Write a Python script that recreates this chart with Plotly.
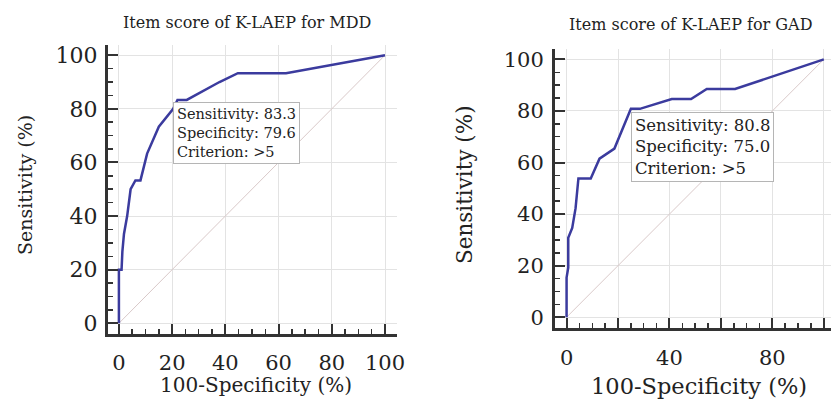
import plotly.graph_objects as go

# MDD ROC data (100-Specificity, Sensitivity)
mdd_fpr = [0, 0, 1.0, 1.3, 1.9, 3.1, 4.4, 6.2, 8.1, 10.6, 15.0, 20.4, 22.0, 25.5, 37.8, 44.7, 62.8, 100]
mdd_tpr = [0, 20.0, 20.0, 26.7, 33.3, 40.0, 50.0, 53.3, 53.3, 63.3, 73.3, 80.0, 83.3, 83.3, 90.0, 93.3, 93.3, 100]

# GAD ROC data
gad_fpr = [0, 0, 0.65, 0.65, 2.2, 3.5, 4.6, 9.4, 12.8, 18.6, 25.0, 28.5, 40.9, 48.4, 54.5, 65.5, 100]
gad_tpr = [0, 15.4, 19.2, 30.8, 34.6, 42.3, 53.8, 53.8, 61.5, 65.4, 80.8, 80.8, 84.6, 84.6, 88.5, 88.5, 100]

diag = [0, 100]

titles = ["Item score of K-LAEP for MDD", "Item score of K-LAEP for GAD"]
x_title = "100-Specificity (%)"
y_title = "Sensitivity (%)"
ann_mdd = ["Sensitivity: 83.3", "Specificity: 79.6", "Criterion: >5"]
ann_gad = ["Sensitivity: 80.8", "Specificity: 75.0", "Criterion: >5"]
mdd_crit = (20.4, 83.3)
gad_crit = (25.0, 80.8)

tick_vals = [0, 20, 40, 60, 80, 100]
left_ticktext = ["0", "20", "40", "60", "80", "100"]
right_xticktext = ["0", "", "40", "", "80", ""]

FONT = "DejaVu Serif"
LINE = "#3b3b9e"
GRID = "#e3e3e3"
AX = "#333333"
TXT = "#222222"

fig = go.Figure()
fig.add_trace(go.Scatter(x=diag, y=diag, mode="lines", line=dict(color="#d9c9c9", width=1),
                         xaxis="x", yaxis="y", showlegend=False, hoverinfo="skip"))
fig.add_trace(go.Scatter(x=mdd_fpr, y=mdd_tpr, mode="lines", line=dict(color=LINE, width=2.5),
                         xaxis="x", yaxis="y", showlegend=False))
fig.add_trace(go.Scatter(x=diag, y=diag, mode="lines", line=dict(color="#d9c9c9", width=1),
                         xaxis="x2", yaxis="y2", showlegend=False, hoverinfo="skip"))
fig.add_trace(go.Scatter(x=gad_fpr, y=gad_tpr, mode="lines", line=dict(color=LINE, width=2.5),
                         xaxis="x2", yaxis="y2", showlegend=False))

W, H = 831, 401

def ax(domain, rng, ticktext, anchor, tsize, standoff):
    return dict(
        domain=domain, range=rng, anchor=anchor, automargin=False,
        tickmode="array", tickvals=tick_vals, ticktext=ticktext,
        ticks="inside", ticklen=10, tickwidth=2, tickcolor=AX,
        showline=True, linecolor=AX, linewidth=3, mirror=False,
        showgrid=True, gridcolor=GRID, gridwidth=1, zeroline=False,
        minor=dict(dtick=5, ticks="inside", ticklen=5, tickwidth=1.5, tickcolor=AX, showgrid=False),
        tickfont=dict(family=FONT, size=tsize, color=TXT),
        ticklabelstandoff=standoff, fixedrange=True,
    )

x1d = [108 / W, 397 / W]
y1d = [(H - 334) / H, (H - 45) / H]
x2d = [555 / W, 1.0]
y2d = [(H - 328.3) / H, (H - 49.3) / H]

fig.update_layout(
    width=W, height=H,
    margin=dict(l=0, r=0, t=0, b=0),
    paper_bgcolor="white", plot_bgcolor="white",
    showlegend=False,
    xaxis=ax(x1d, [-4.1, 104.5], left_ticktext, "y", 21, 8),
    yaxis=ax(y1d, [-4.0, 103.8], left_ticktext, "x", 22, 3),
    xaxis2=ax(x2d, [-4.5, 102.8], right_xticktext, "y2", 21, 8),
    yaxis2=ax(y2d, [-4.3, 103.9], left_ticktext, "x2", 21, 4),
)

def pann(text, x, y, size, angle=0):
    fig.add_annotation(text=text, xref="paper", yref="paper", x=x / W, y=(H - y) / H,
                       showarrow=False, font=dict(family=FONT, size=size, color=TXT),
                       xanchor="center", yanchor="middle", textangle=angle)

pann(titles[0], 247, 22, 16)
pann(titles[1], 690, 24, 16)
pann(x_title, 256, 385, 20)
pann(y_title, 25, 185, 19, -90)
pann(x_title, 699, 386, 22.5)
pann(y_title, 465, 184, 21.5, -90)

fig.add_annotation(text="<br>".join(ann_mdd), xref="x", yref="y",
                   x=mdd_crit[0], y=mdd_crit[1] - 0.6, xanchor="left", yanchor="top",
                   align="left", showarrow=False, font=dict(family=FONT, size=14.5, color=TXT),
                   bgcolor="white", bordercolor="#b5b5b5", borderwidth=1, borderpad=3)
fig.add_annotation(text="<br>".join(ann_gad), xref="x2", yref="y2",
                   x=gad_crit[0], y=gad_crit[1] - 1.1, xanchor="left", yanchor="top",
                   align="left", showarrow=False, font=dict(family=FONT, size=16.5, color=TXT),
                   bgcolor="white", bordercolor="#b5b5b5", borderwidth=1, borderpad=3)

fig.write_html("out.html", config={"displayModeBar": False, "staticPlot": True},
               post_script="document.body.style.margin='0';document.body.style.overflow='hidden';")
